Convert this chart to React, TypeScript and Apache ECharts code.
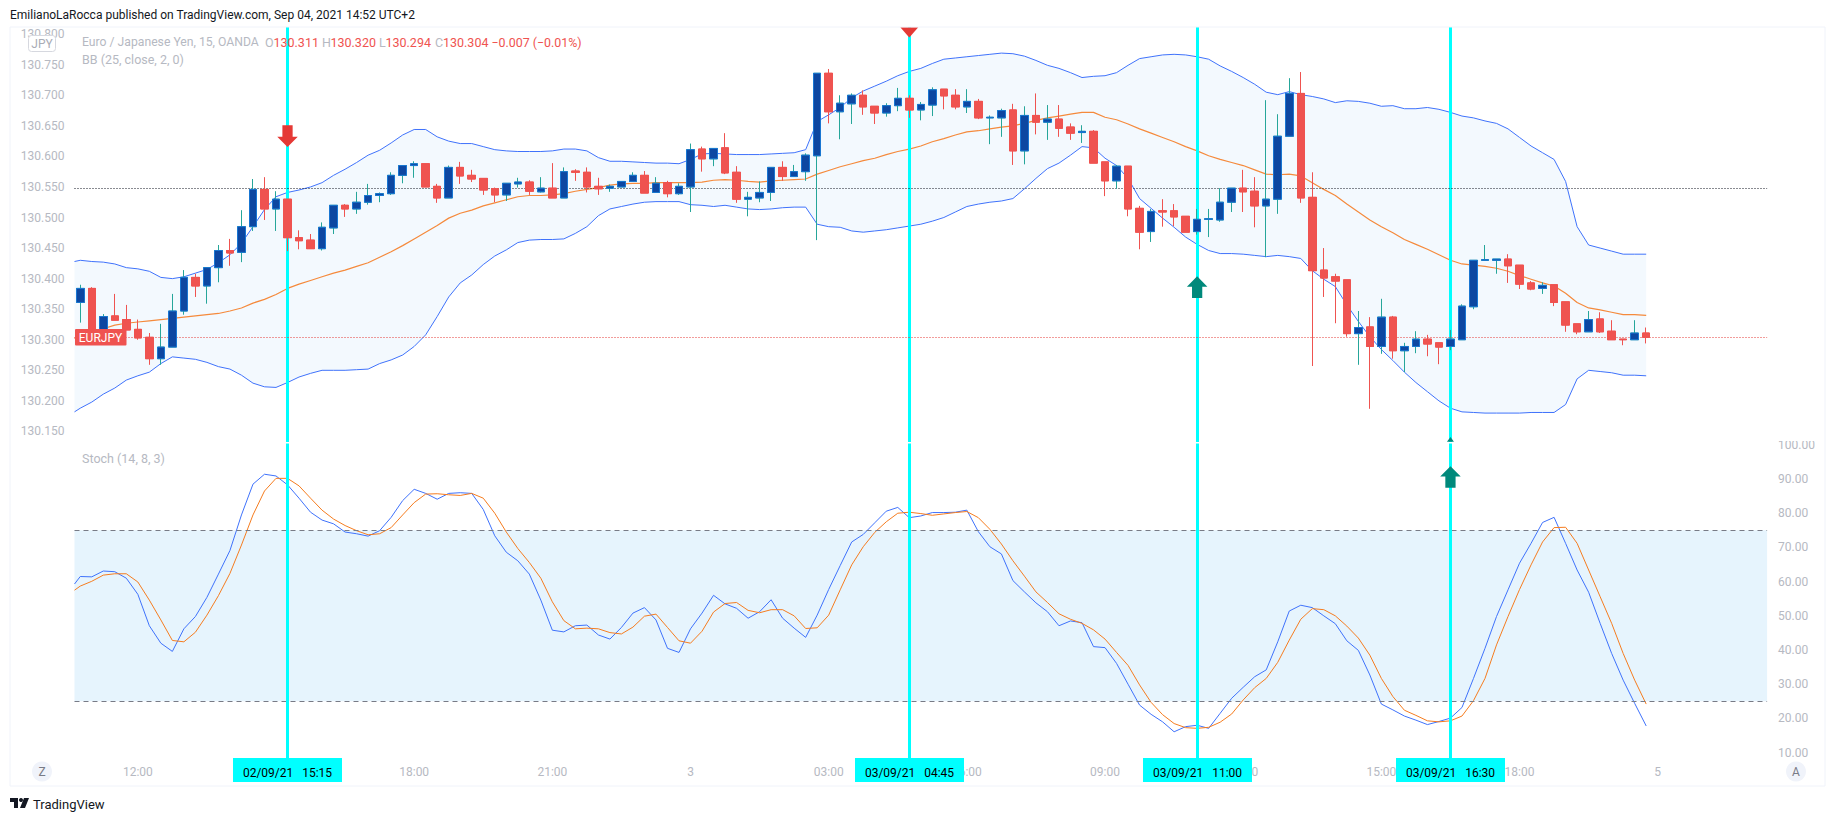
import React, { useEffect, useRef } from "react";
import * as echarts from "echarts";

const FONT = "Roboto";

const OPEN = [130.361,130.384,130.311,130.339,130.333,130.317,130.304,130.269,130.288,130.347,130.402,130.388,130.418,130.446,130.443,130.485,130.546,130.514,130.530,130.467,130.463,130.449,130.483,130.520,130.514,130.525,130.536,130.539,130.569,130.585,130.588,130.551,130.532,130.582,130.569,130.564,130.547,130.537,130.555,130.558,130.542,130.548,130.532,130.576,130.574,130.551,130.548,130.550,130.559,130.569,130.541,130.557,130.539,130.550,130.612,130.596,130.614,130.574,130.530,130.532,130.541,130.582,130.567,130.575,130.601,130.736,130.673,130.686,130.700,130.682,130.671,130.683,130.695,130.676,130.684,130.710,130.700,130.681,130.690,130.663,130.663,130.676,130.609,130.667,130.656,130.661,130.648,130.639,130.641,130.591,130.560,130.584,130.515,130.477,130.511,130.511,130.502,130.477,130.497,130.496,130.525,130.548,130.543,130.519,130.530,130.633,130.703,130.533,130.414,130.403,130.398,130.310,130.321,130.289,130.337,130.282,130.289,130.301,130.295,130.289,130.300,130.354,130.430,130.430,130.432,130.422,130.393,130.384,130.390,130.362,130.326,130.313,130.334,130.314,130.301,130.300,130.311];
const CLOSE = [130.384,130.311,130.338,130.332,130.316,130.303,130.269,130.288,130.347,130.402,130.388,130.418,130.446,130.442,130.485,130.546,130.514,130.530,130.467,130.462,130.449,130.484,130.520,130.514,130.525,130.536,130.539,130.569,130.585,130.588,130.550,130.532,130.582,130.568,130.563,130.545,130.537,130.556,130.558,130.543,130.548,130.532,130.575,130.574,130.550,130.547,130.551,130.559,130.569,130.540,130.556,130.539,130.551,130.611,130.596,130.613,130.573,130.530,130.533,130.541,130.582,130.567,130.575,130.602,130.736,130.673,130.687,130.700,130.681,130.671,130.683,130.695,130.676,130.685,130.709,130.699,130.681,130.690,130.663,130.664,130.675,130.609,130.667,130.656,130.661,130.646,130.638,130.641,130.589,130.560,130.584,130.514,130.476,130.510,130.509,130.501,130.476,130.497,130.498,130.525,130.548,130.542,130.519,130.530,130.633,130.703,130.532,130.413,130.401,130.396,130.310,130.320,130.289,130.337,130.282,130.289,130.301,130.293,130.288,130.301,130.355,130.430,130.431,130.432,130.421,130.391,130.383,130.389,130.361,130.324,130.313,130.333,130.313,130.300,130.300,130.311,130.304];
const HIGH = [130.390,130.386,130.342,130.375,130.357,130.333,130.311,130.326,130.375,130.414,130.408,130.418,130.455,130.465,130.512,130.563,130.566,130.543,130.530,130.479,130.473,130.492,130.520,130.522,130.542,130.555,130.541,130.574,130.585,130.592,130.588,130.555,130.585,130.591,130.578,130.564,130.549,130.556,130.565,130.561,130.566,130.589,130.582,130.579,130.582,130.565,130.554,130.559,130.574,130.576,130.566,130.560,130.556,130.621,130.616,130.613,130.638,130.584,130.542,130.559,130.582,130.592,130.586,130.605,130.736,130.743,130.700,130.703,130.708,130.682,130.687,130.712,130.700,130.689,130.713,130.710,130.710,130.710,130.694,130.667,130.678,130.686,130.682,130.703,130.684,130.684,130.654,130.651,130.643,130.591,130.586,130.584,130.519,130.514,130.530,130.522,130.502,130.514,130.514,130.548,130.548,130.578,130.566,130.692,130.669,130.728,130.738,130.574,130.450,130.408,130.398,130.347,130.337,130.367,130.339,130.295,130.314,130.308,130.295,130.316,130.358,130.430,130.455,130.432,130.440,130.422,130.396,130.394,130.390,130.362,130.326,130.347,130.345,130.332,130.301,130.332,130.320];
const LOW = [130.328,130.310,130.308,130.332,130.316,130.300,130.259,130.259,130.288,130.341,130.370,130.359,130.394,130.421,130.427,130.478,130.496,130.478,130.445,130.448,130.449,130.446,130.473,130.501,130.506,130.521,130.525,130.537,130.556,130.565,130.550,130.524,130.532,130.555,130.558,130.537,130.525,130.527,130.549,130.537,130.541,130.532,130.532,130.560,130.541,130.537,130.542,130.550,130.559,130.540,130.541,130.533,130.537,130.509,130.575,130.584,130.571,130.524,130.502,130.525,130.527,130.560,130.567,130.560,130.463,130.654,130.628,130.653,130.668,130.653,130.665,130.674,130.663,130.659,130.666,130.677,130.677,130.671,130.661,130.620,130.632,130.586,130.587,130.636,130.627,130.632,130.627,130.622,130.589,130.535,130.547,130.502,130.448,130.460,130.485,130.486,130.476,130.472,130.468,130.493,130.509,130.509,130.484,130.435,130.506,130.633,130.524,130.257,130.370,130.327,130.305,130.259,130.187,130.277,130.269,130.247,130.278,130.273,130.260,130.283,130.300,130.350,130.430,130.408,130.393,130.383,130.381,130.375,130.355,130.313,130.309,130.313,130.311,130.300,130.291,130.300,130.294];

const BB_UPPER_LEFT = 130.428;
const BB_MID_LEFT = 130.302;
const BB_LOWER_LEFT = 130.182;
const BB_UPPER = [130.430,130.428,130.427,130.424,130.418,130.416,130.412,130.402,130.400,130.403,130.409,130.415,130.426,130.439,130.458,130.485,130.513,130.534,130.541,130.545,130.550,130.557,130.569,130.579,130.590,130.602,130.610,130.622,130.635,130.644,130.644,130.632,130.625,130.621,130.621,130.616,130.611,130.609,130.608,130.608,130.608,130.609,130.612,130.612,130.609,130.598,130.592,130.592,130.591,130.590,130.589,130.589,130.588,130.595,130.604,130.605,130.604,130.603,130.603,130.603,130.604,130.605,130.606,130.611,130.657,130.668,130.680,130.696,130.707,130.715,130.723,130.732,130.739,130.744,130.752,130.759,130.761,130.763,130.765,130.767,130.769,130.768,130.764,130.757,130.749,130.744,130.737,130.729,130.731,130.732,130.737,130.749,130.760,130.763,130.766,130.767,130.766,130.763,130.759,130.748,130.739,130.729,130.718,130.705,130.701,130.706,130.701,130.698,130.694,130.688,130.691,130.690,130.687,130.682,130.683,130.678,130.678,130.680,130.677,130.672,130.666,130.663,130.658,130.654,130.645,130.631,130.617,130.606,130.595,130.559,130.485,130.455,130.450,130.445,130.440,130.440,130.440];
const BB_MID = [130.305,130.312,130.318,130.324,130.327,130.329,130.331,130.333,130.335,130.337,130.339,130.341,130.343,130.347,130.352,130.360,130.366,130.374,130.384,130.391,130.397,130.403,130.409,130.414,130.420,130.426,130.435,130.444,130.454,130.465,130.476,130.487,130.499,130.507,130.512,130.519,130.524,130.529,130.534,130.536,130.536,130.537,130.539,130.543,130.546,130.549,130.553,130.555,130.556,130.556,130.557,130.557,130.557,130.557,130.558,130.561,130.562,130.561,130.559,130.558,130.560,130.561,130.562,130.563,130.571,130.577,130.583,130.588,130.593,130.597,130.603,130.608,130.612,130.617,130.624,130.629,130.635,130.640,130.642,130.645,130.648,130.650,130.654,130.659,130.663,130.666,130.669,130.672,130.672,130.664,130.660,130.653,130.645,130.638,130.631,130.624,130.616,130.609,130.601,130.595,130.590,130.585,130.578,130.571,130.570,130.571,130.568,130.557,130.546,130.536,130.522,130.509,130.496,130.485,130.475,130.464,130.456,130.448,130.439,130.430,130.424,130.422,130.420,130.417,130.412,130.405,130.399,130.393,130.388,130.376,130.361,130.352,130.349,130.345,130.341,130.341,130.340];
const BB_LOWER = [130.188,130.198,130.211,130.221,130.234,130.241,130.247,130.261,130.272,130.270,130.268,130.263,130.256,130.252,130.242,130.229,130.223,130.222,130.230,130.239,130.245,130.250,130.250,130.250,130.251,130.252,130.261,130.267,130.275,130.289,130.308,130.338,130.370,130.393,130.406,130.423,130.437,130.447,130.459,130.463,130.464,130.464,130.465,130.474,130.485,130.503,130.514,130.518,130.522,130.525,130.526,130.526,130.526,130.521,130.520,130.518,130.520,130.517,130.514,130.513,130.514,130.516,130.517,130.517,130.489,130.485,130.484,130.478,130.476,130.478,130.480,130.483,130.486,130.489,130.494,130.500,130.509,130.518,130.522,130.525,130.527,130.531,130.547,130.564,130.580,130.589,130.602,130.616,130.614,130.597,130.585,130.564,130.531,130.515,130.499,130.484,130.468,130.456,130.446,130.441,130.441,130.440,130.438,130.436,130.438,130.436,130.433,130.413,130.399,130.387,130.357,130.330,130.305,130.284,130.266,130.247,130.230,130.215,130.200,130.188,130.182,130.181,130.180,130.180,130.180,130.180,130.181,130.181,130.181,130.194,130.236,130.250,130.248,130.246,130.242,130.242,130.241];

const STOCH_K_LEFT = 59.3;
const STOCH_D_LEFT = 57.5;
const STOCH_K = [61.5,61.4,63.1,62.9,61.0,56.3,47.1,42.0,39.6,46.2,49.8,55.4,62.2,69.1,79.5,88.5,91.4,90.9,88.3,84.4,80.3,78.0,76.9,74.5,74.0,73.3,74.9,78.8,83.7,87.0,85.8,84.1,85.8,86.0,85.8,81.1,73.4,68.6,66.1,62.2,54.6,45.8,45.3,47.1,47.3,44.4,43.2,46.6,50.8,52.4,48.8,40.5,39.3,46.2,50.8,56.0,53.5,52.2,49.3,51.2,54.7,49.3,46.4,43.7,50.2,57.7,64.7,71.6,73.8,77.2,80.6,81.7,78.7,79.2,80.2,80.2,80.3,80.9,74.6,70.2,68.1,60.3,57.0,53.8,51.2,47.1,48.5,48.0,41.0,40.7,36.1,30.0,23.9,21.2,19.0,16.1,17.6,18.0,17.1,21.5,25.9,29.1,32.2,34.2,42.4,51.4,53.1,52.4,50.0,47.7,42.7,39.9,32.7,24.2,22.5,20.7,19.5,18.2,19.1,20.1,23.2,31.7,40.5,49.8,57.6,65.4,71.2,77.3,78.8,71.2,63.4,56.9,47.8,39.0,31.2,24.4,17.8];
const STOCH_D = [58.7,60.1,61.9,62.3,62.3,59.9,54.6,48.8,42.8,42.4,45.2,50.2,55.9,62.4,70.7,79.5,86.5,90.2,90.2,88.0,84.4,80.9,78.3,76.4,74.9,73.7,74.0,75.8,79.5,83.1,85.6,85.7,85.4,85.2,85.8,84.4,80.0,74.5,69.7,65.6,61.0,54.1,48.6,46.2,46.4,46.2,45.1,44.7,46.7,49.9,50.5,46.6,42.7,42.0,45.5,51.1,53.6,53.9,51.6,50.9,51.8,51.8,50.0,46.3,46.5,50.2,57.6,64.9,70.2,74.4,77.5,80.0,80.3,79.9,79.4,79.8,80.2,80.5,78.7,75.3,71.0,66.1,61.6,57.0,53.9,50.6,49.0,47.8,45.9,43.2,39.3,35.5,29.8,24.7,21.1,18.5,17.3,17.1,17.4,18.9,21.3,25.4,29.0,31.7,36.4,42.9,49.0,52.1,51.8,50.0,47.0,43.5,38.5,31.7,26.4,22.4,20.9,19.3,19.0,19.3,20.7,25.2,31.7,41.5,49.8,57.7,64.9,71.6,75.8,75.9,71.2,63.4,55.6,47.8,39.0,31.2,24.2];

const PRICE_TICKS = [130.15,130.2,130.25,130.3,130.35,130.4,130.45,130.5,130.55,130.6,130.65,130.7,130.75,130.8];
const STOCH_TICKS = [10,20,30,40,50,60,70,80,90,100];
const TIME_TICK_INDEX = [5,29,41,53,65,77,89,101,113,125,137];
const TIME_TICK_LABEL = ["12:00","18:00","21:00","3","03:00","06:00","09:00","12:00","15:00","18:00","5"];
const LAST_PRICE = 130.304;
const SESSION_PRICE = 130.548;
const STOCH_BANDS = [25, 75];
const MARKER_INDEX = [18, 72, 97, 119];
const MARKER_LABEL = ["02/09/21   15:15","03/09/21   04:45","03/09/21   11:00","03/09/21   16:30"];
const BAR_COUNT_AXIS = [-0.5, 146.5];

const RED = "#ef5350";
const TEAL = "#26a69a";
const LINE_BLUE = "#3f72fb";
const LINE_ORANGE = "#f58a3c";
const AXIS_GREY = "#b6b9c2";

const ARROW_UP = "path://M10,0 L20,10 L15,10 L15,21 L5,21 L5,10 L0,10 Z";
const ARROW_DOWN = "path://M5,0 L15,0 L15,11 L20,11 L10,21 L0,11 L5,11 Z";
const TRI_UP = "path://M10,0 L20,11 L0,11 Z";
const TRI_DOWN = "path://M0,0 L20,0 L10,11 Z";

const withLeft = (left: number, arr: number[]) => [[-0.5, left], ...arr.map((v, i) => [i, v])];

const cyanLines = MARKER_INDEX.map((i) => ({
  xAxis: i,
  lineStyle: { color: "#00ffff", width: 3, type: "solid" as const, opacity: 1 },
}));

const txt = (text: string, x: number, y: number, fill: string, fontSize = 12, align = "left", extra: any = {}) => ({
  type: "text",
  z: 20,
  silent: true,
  style: { text, x, y, fill, fontSize, fontFamily: FONT, align, verticalAlign: "middle", ...extra },
});

const box = (x: number, y: number, width: number, height: number, fill: string, stroke?: string, r = 0, z = 18) => ({
  type: "rect",
  z,
  silent: true,
  shape: { x, y, width, height, r },
  style: { fill, stroke: stroke ?? "none", lineWidth: stroke ? 1 : 0 },
});

function buildOption() {
  const wicks = OPEN.map((o, i) => [i, o, CLOSE[i], LOW[i], HIGH[i]]);
  const bodies = OPEN.map((o, i) => [i, o, CLOSE[i], Math.min(o, CLOSE[i]), Math.max(o, CLOSE[i])]);
  const upper = withLeft(BB_UPPER_LEFT, BB_UPPER);
  const lower = withLeft(BB_LOWER_LEFT, BB_LOWER);

  const noAxis = { axisLine: { show: false }, axisTick: { show: false }, splitLine: { show: false } };

  const dateBoxes = MARKER_INDEX.flatMap((_, k) => {
    const centers = [287.5, 909.5, 1197.5, 1450.5];
    const c = centers[k];
    return [box(c - 54.5, 758, 109, 24, "#00ffff"), txt(MARKER_LABEL[k], c, 773, "#000000", 12, "center")];
  });

  const graphicElements: any[] = [
    box(10, 27, 1815, 759, "none", "#f0f3fa", 0, 16),
    box(1772, 431, 48, 10, "#ffffff"),
    box(28.5, 35.5, 27, 16, "#ffffff", "#d6d8df", 3),
    txt("JPY", 42, 43.5, "#a9acb6", 12, "center"),
    txt("Euro / Japanese Yen, 15, OANDA", 82, 42, AXIS_GREY, 12.2),
    txt("O", 265, 42, AXIS_GREY, 12.5),
    txt("130.311", 273.5, 42, RED, 12.5),
    txt("H", 322, 42, AXIS_GREY, 12.5),
    txt("130.320", 330.5, 42, RED, 12.5),
    txt("L", 379, 42, AXIS_GREY, 12.5),
    txt("130.294", 385.5, 42, RED, 12.5),
    txt("C", 435, 42, AXIS_GREY, 12.5),
    txt("130.304", 443, 42, RED, 12.5),
    txt("\u22120.007 (\u22120.01%)", 491.5, 42, RED, 12.4),
    txt("BB (25, close, 2, 0)", 82, 59, AXIS_GREY, 12.5),
    txt("Stoch (14, 8, 3)", 82, 458, AXIS_GREY, 12.5),
    box(75, 329, 51.5, 16.5, RED, undefined, 1),
    txt("EURJPY", 100.5, 337.5, "#ffffff", 12, "center"),
    txt("EmilianoLaRocca published on TradingView.com, Sep 04, 2021 14:52 UTC+2", 10, 15, "#131722", 12),
    txt("TradingView", 33, 804, "#131722", 13),
    { type: "polygon", z: 20, silent: true, shape: { points: [[10, 798], [18, 798], [18, 808], [14, 808], [14, 802], [10, 802]] }, style: { fill: "#131722" } },
    { type: "circle", z: 20, silent: true, shape: { cx: 21, cy: 800, r: 2 }, style: { fill: "#131722" } },
    { type: "polygon", z: 20, silent: true, shape: { points: [[24, 798], [29, 798], [25, 808], [20, 808]] }, style: { fill: "#131722" } },
    { type: "circle", z: 18, silent: true, shape: { cx: 42, cy: 771.5, r: 10 }, style: { fill: "#f0f3fa" } },
    txt("Z", 42, 771.5, "#787b86", 12, "center"),
    { type: "circle", z: 18, silent: true, shape: { cx: 1796, cy: 771.5, r: 10 }, style: { fill: "#f0f3fa" } },
    txt("A", 1796, 771.5, "#787b86", 12, "center"),
    ...dateBoxes,
  ];

  return {
    animation: false,
    backgroundColor: "#ffffff",
    graphic: { elements: graphicElements },
    grid: [
      { left: 74.5, width: 1692.6, top: 27, height: 415 },
      { left: 74.5, width: 1692.6, top: 443.5, height: 314.5 },
    ],
    xAxis: [
      { type: "value", gridIndex: 0, min: BAR_COUNT_AXIS[0], max: BAR_COUNT_AXIS[1], show: false, ...noAxis },
      {
        type: "value",
        gridIndex: 1,
        min: BAR_COUNT_AXIS[0],
        max: BAR_COUNT_AXIS[1],
        ...noAxis,
        axisLabel: {
          customValues: TIME_TICK_INDEX,
          formatter: (v: number) => TIME_TICK_LABEL[TIME_TICK_INDEX.indexOf(v)] ?? "",
          color: AXIS_GREY,
          fontSize: 12,
          fontFamily: FONT,
          margin: 8,
          hideOverlap: false,
          showMinLabel: true,
          showMaxLabel: true,
        },
      },
    ],
    yAxis: [
      {
        type: "value",
        gridIndex: 0,
        position: "left",
        min: 130.1327,
        max: 130.8117,
        ...noAxis,
        axisLabel: {
          customValues: PRICE_TICKS,
          formatter: (v: number) => v.toFixed(3),
          color: AXIS_GREY,
          fontSize: 12,
          fontFamily: FONT,
          margin: 10,
          showMinLabel: true,
          showMaxLabel: true,
        },
      },
      {
        type: "value",
        gridIndex: 1,
        position: "right",
        min: 8.43,
        max: 100.39,
        ...noAxis,
        axisLabel: {
          customValues: STOCH_TICKS,
          formatter: (v: number) => v.toFixed(2),
          color: AXIS_GREY,
          fontSize: 12,
          fontFamily: FONT,
          margin: 11,
          showMinLabel: true,
          showMaxLabel: true,
        },
      },
    ],
    series: [
      {
        type: "custom",
        name: "BB band",
        xAxisIndex: 0,
        yAxisIndex: 0,
        z: 1,
        silent: true,
        clip: true,
        data: [[0]],
        renderItem: (_p: any, api: any) => {
          const top = upper.map((d) => api.coord(d));
          const bottom = lower.map((d) => api.coord(d)).reverse();
          return { type: "polygon", shape: { points: [...top, ...bottom] }, style: { fill: "#f3f9fe" } };
        },
      },
      {
        type: "line",
        name: "BB upper",
        xAxisIndex: 0,
        yAxisIndex: 0,
        z: 2,
        data: upper,
        showSymbol: false,
        silent: true,
        lineStyle: { color: LINE_BLUE, width: 1 },
      },
      {
        type: "line",
        name: "BB lower",
        xAxisIndex: 0,
        yAxisIndex: 0,
        z: 2,
        data: lower,
        showSymbol: false,
        silent: true,
        lineStyle: { color: LINE_BLUE, width: 1 },
      },
      {
        type: "line",
        name: "BB basis",
        xAxisIndex: 0,
        yAxisIndex: 0,
        z: 2,
        data: withLeft(BB_MID_LEFT, BB_MID),
        showSymbol: false,
        silent: true,
        lineStyle: { color: LINE_ORANGE, width: 1.2 },
      },
      {
        type: "candlestick",
        name: "EURJPY wicks",
        xAxisIndex: 0,
        yAxisIndex: 0,
        z: 4,
        barWidth: 8,
        silent: true,
        data: wicks,
        itemStyle: { color: TEAL, color0: RED, borderColor: TEAL, borderColor0: RED, borderWidth: 1 },
        markLine: {
          z: 3,
          silent: true,
          symbol: "none",
          precision: 3,
          label: { show: false },
          data: [
            ...cyanLines,
            { yAxis: SESSION_PRICE, lineStyle: { color: "#131722", type: [1, 2], width: 1 } },
            { yAxis: LAST_PRICE, lineStyle: { color: "#e53935", type: [1, 2], width: 1 } },
          ],
        },
      },
      {
        type: "candlestick",
        name: "EURJPY bodies",
        xAxisIndex: 0,
        yAxisIndex: 0,
        z: 4,
        barWidth: 8,
        silent: true,
        data: bodies,
        itemStyle: { color: "#0d47a1", color0: RED, borderColor: "#1976d2", borderColor0: RED, borderWidth: 1 },
        markPoint: {
          z: 6,
          silent: true,
          label: { show: false },
          data: [
            { coord: [18, 130.633], symbol: ARROW_DOWN, symbolSize: [20.5, 21.7], itemStyle: { color: "#e53935" } },
            { coord: [72, 130.803], symbol: TRI_DOWN, symbolSize: [18, 10.3], itemStyle: { color: "#e53935" } },
            { coord: [97, 130.386], symbol: ARROW_UP, symbolSize: [20.5, 21.7], itemStyle: { color: "#00897b" } },
            { coord: [119, 130.137], symbol: TRI_UP, symbolSize: [7, 4.7], itemStyle: { color: "#00897b" } },
          ],
        },
      },
      {
        type: "line",
        name: "Stoch K",
        xAxisIndex: 1,
        yAxisIndex: 1,
        z: 2,
        data: withLeft(STOCH_K_LEFT, STOCH_K),
        showSymbol: false,
        silent: true,
        lineStyle: { color: LINE_BLUE, width: 1 },
        markArea: {
          z: 1,
          silent: true,
          label: { show: false },
          itemStyle: { color: "#e6f4fd" },
          data: [[{ yAxis: STOCH_BANDS[0] }, { yAxis: STOCH_BANDS[1] }]],
        },
        markPoint: {
          z: 6,
          silent: true,
          label: { show: false },
          data: [{ coord: [119, 90.6], symbol: ARROW_UP, symbolSize: [20.5, 21.7], itemStyle: { color: "#00897b" } }],
        },
      },
      {
        type: "line",
        name: "Stoch D",
        xAxisIndex: 1,
        yAxisIndex: 1,
        z: 2,
        data: withLeft(STOCH_D_LEFT, STOCH_D),
        showSymbol: false,
        silent: true,
        lineStyle: { color: "#f57c1f", width: 1 },
        markLine: {
          z: 3,
          silent: true,
          symbol: "none",
          label: { show: false },
          data: [
            ...STOCH_BANDS.map((v) => ({ yAxis: v, lineStyle: { color: "#787b86", type: [5, 4], width: 1 } })),
            ...cyanLines,
          ],
        },
      },
    ],
  };
}

export default function App() {
  const ref = useRef<HTMLDivElement>(null);
  useEffect(() => {
    if (!ref.current) return;
    const chart = echarts.init(ref.current, undefined, { renderer: "svg" });
    chart.setOption(buildOption() as any);
    return () => chart.dispose();
  }, []);
  return <div ref={ref} style={{ position: "fixed", left: 0, top: 0, width: 1834, height: 821, background: "#fff" }} />;
}
